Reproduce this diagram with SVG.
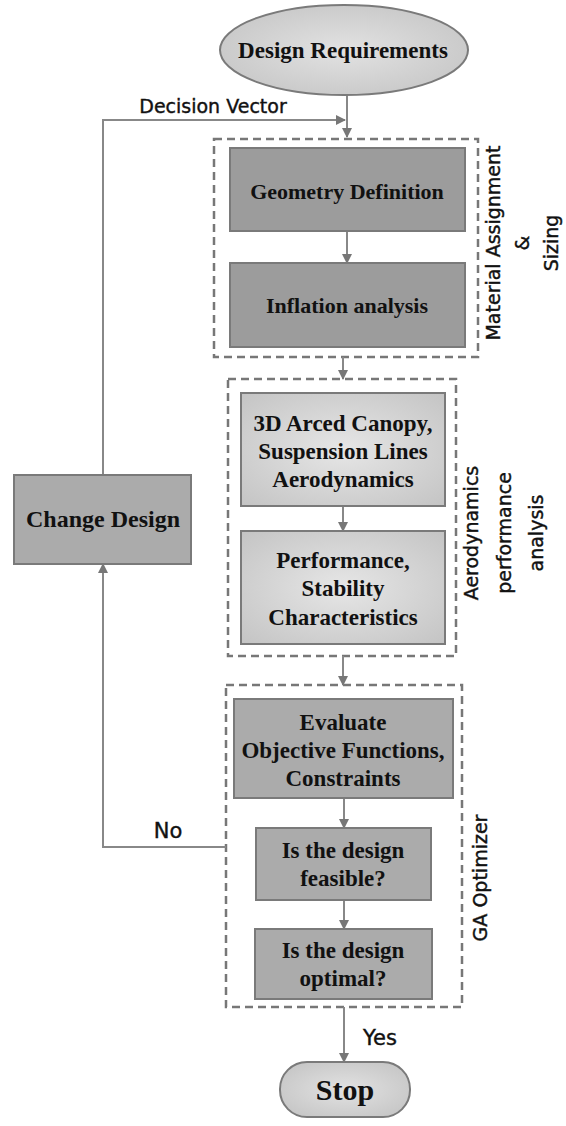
<svg xmlns="http://www.w3.org/2000/svg" width="566" height="1126" viewBox="0 0 566 1126">
<style>
.box{stroke:#7a7a7a;stroke-width:2}
.dark{fill:#9c9c9c}
.mid{fill:#ababab}
.lite{fill:url(#rg)}
.t{font-family:"Liberation Serif",serif;font-weight:bold;font-size:23px;fill:#111;text-anchor:middle}
.c{font-family:"DejaVu Sans",sans-serif;font-size:19px;fill:#111;stroke:#111;stroke-width:0.4;text-anchor:middle}
.dash{fill:none;stroke:#777;stroke-width:2.5;stroke-dasharray:8 5}
.ln{fill:none;stroke:#888;stroke-width:2}
</style>
<defs>
<radialGradient id="rg" cx="50%" cy="50%" r="70%">
<stop offset="0" stop-color="#e6e6e6"/><stop offset="1" stop-color="#c4c4c4"/>
</radialGradient>
<radialGradient id="eg" cx="50%" cy="50%" r="60%">
<stop offset="0" stop-color="#e2e2e2"/><stop offset="1" stop-color="#c6c6c6"/>
</radialGradient>
<marker id="ah" markerWidth="10" markerHeight="10" refX="9" refY="5" orient="auto" markerUnits="userSpaceOnUse">
<path d="M0,0 L10,5 L0,10 z" fill="#777"/>
</marker>
</defs>

<g id="groups">
<rect class="dash" x="214" y="139" width="264" height="218"/>
<rect class="dash" x="228" y="379" width="228" height="277"/>
<rect class="dash" x="226" y="685" width="236" height="322"/>
</g>

<g id="connectors">
<path class="ln" d="M347,95 V137" marker-end="url(#ah)"/>
<path class="ln" d="M103,475 V120 H345" marker-end="url(#ah)"/>
<path class="ln" d="M347,231 V263" marker-end="url(#ah)"/>
<path class="ln" d="M343,357 V379" marker-end="url(#ah)"/>
<path class="ln" d="M343,506 V531" marker-end="url(#ah)"/>
<path class="ln" d="M343,656 V685" marker-end="url(#ah)"/>
<path class="ln" d="M344,798 V828" marker-end="url(#ah)"/>
<path class="ln" d="M344,900 V929" marker-end="url(#ah)"/>
<path class="ln" d="M226,847 H103 V564" marker-end="url(#ah)"/>
<path class="ln" d="M344,1007 V1062" marker-end="url(#ah)"/>
<text class="c" x="213" y="113">Decision Vector</text>
<text class="c" x="168" y="838" style="font-size:21px">No</text>
<text class="c" x="380" y="1045" style="font-size:21px">Yes</text>
</g>

<g id="design-requirements">
<ellipse cx="344" cy="50" rx="124" ry="45" fill="url(#eg)" stroke="#7a7a7a" stroke-width="2"/>
<text class="t" x="343" y="58">Design Requirements</text>
</g>

<g id="geometry-definition">
<rect class="box dark" x="230" y="148" width="235" height="83"/>
<text class="t" x="347" y="199" style="font-size:22px">Geometry Definition</text>
</g>

<g id="inflation-analysis">
<rect class="box dark" x="230" y="263" width="235" height="84"/>
<text class="t" x="347" y="313" style="font-size:22px">Inflation analysis</text>
</g>

<g id="label-material">
<text class="c" transform="translate(500,243) rotate(-90)">Material Assignment</text>
<text class="c" transform="translate(529,243) rotate(-90)">&amp;</text>
<text class="c" transform="translate(558,243) rotate(-90)">Sizing</text>
</g>

<g id="aero-canopy">
<rect class="box lite" x="241" y="393" width="204" height="113"/>
<text class="t" x="343" y="431">3D Arced Canopy,</text>
<text class="t" x="343" y="459">Suspension Lines</text>
<text class="t" x="343" y="487">Aerodynamics</text>
</g>

<g id="performance">
<rect class="box lite" x="241" y="531" width="204" height="113"/>
<text class="t" x="343" y="568">Performance,</text>
<text class="t" x="343" y="596">Stability</text>
<text class="t" x="343" y="625">Characteristics</text>
</g>

<g id="label-aero">
<text class="c" transform="translate(478,533) rotate(-90)">Aerodynamics</text>
<text class="c" transform="translate(511,533) rotate(-90)">performance</text>
<text class="c" transform="translate(543,533) rotate(-90)">analysis</text>
</g>

<g id="change-design">
<rect class="box mid" x="14" y="475" width="177" height="89"/>
<text class="t" x="103" y="527" style="font-size:24px">Change Design</text>
</g>

<g id="evaluate">
<rect class="box mid" x="234" y="699" width="219" height="99"/>
<text class="t" x="343" y="730">Evaluate</text>
<text class="t" x="343" y="758">Objective Functions,</text>
<text class="t" x="343" y="786">Constraints</text>
</g>

<g id="feasible">
<rect class="box mid" x="256" y="828" width="175" height="72"/>
<text class="t" x="343" y="858">Is the design</text>
<text class="t" x="343" y="886">feasible?</text>
</g>

<g id="optimal">
<rect class="box mid" x="255" y="929" width="177" height="70"/>
<text class="t" x="343" y="958">Is the design</text>
<text class="t" x="343" y="986">optimal?</text>
</g>

<g id="label-ga">
<text class="c" transform="translate(487,878) rotate(-90)">GA Optimizer</text>
</g>

<g id="stop">
<rect x="280" y="1062" width="130" height="55" rx="27" fill="url(#eg)" stroke="#7a7a7a" stroke-width="2"/>
<text class="t" x="345" y="1100" style="font-size:30px">Stop</text>
</g>
</svg>
